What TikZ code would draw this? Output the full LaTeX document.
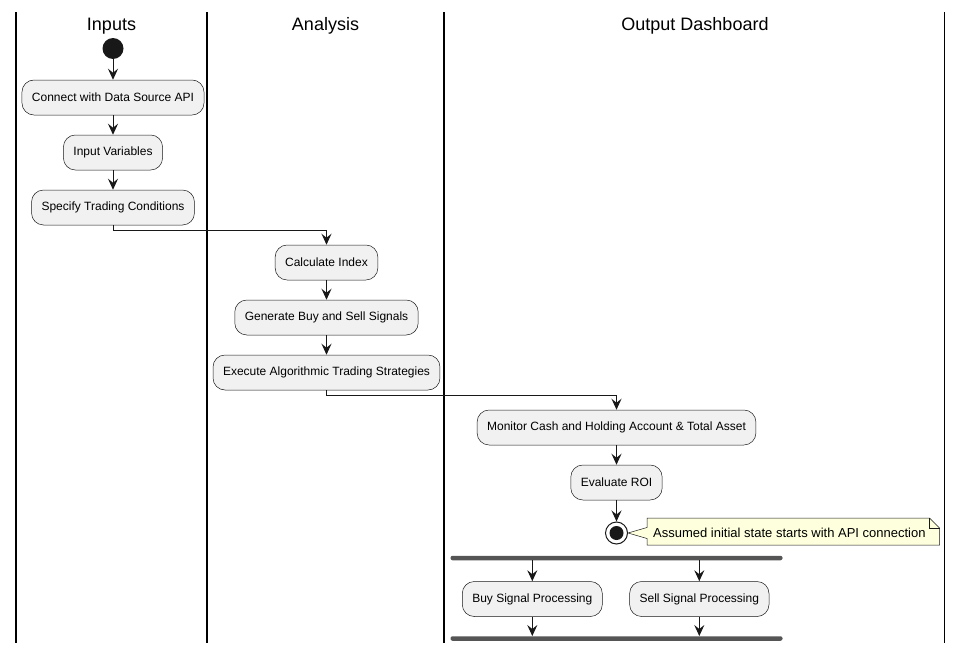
\documentclass[tikz,border=0pt]{standalone}
\usepackage{fontspec}
\setmainfont{Liberation Sans}
\usetikzlibrary{arrows.meta}
\definecolor{boxfill}{HTML}{F1F1F1}
\definecolor{lineclr}{HTML}{181818}
\definecolor{barclr}{HTML}{555555}
\definecolor{notefill}{HTML}{FEFFDD}
\tikzset{
  act/.style={draw=lineclr, line width=0.5pt, fill=boxfill, rounded corners=12pt,
    minimum height=35pt, inner xsep=10pt, font=\fontsize{12}{14}\selectfont},
  arr/.style={draw=lineclr, line width=1pt, -{Stealth[length=11pt,width=10pt,inset=4pt]}},
  lane/.style={draw=black, line width=1.6pt},
  lanetitle/.style={font=\fontsize{18}{22}\selectfont},
  bar/.style={fill=barclr, rounded corners=2pt, draw=none, minimum height=4.5pt, inner sep=0pt},
}
\begin{document}
\begin{tikzpicture}[x=1pt,y=-1pt]
\useasboundingbox (0,0) rectangle (964,653);
% swimlanes
\draw[lane] (16,12) -- (16,643);
\draw[lane] (207,12) -- (207,643);
\draw[lane] (444,12) -- (444,643);
\draw[lane] (944.5,12) -- (944.5,643);
\node[lanetitle] (t1) at (111.5,26) {Inputs};
\node[lanetitle] (t2) at (325.5,26) {Analysis};
\node[lanetitle] (t3) at (695,26) {Output Dashboard};
% start
\node[circle, fill=lineclr, minimum size=21pt, inner sep=0pt] (start) at (113,48.5) {};
\node[act] (n1) at (113,97.5) {Connect with Data Source API};
\node[act] (n2) at (113,152.5) {Input Variables};
\node[act] (n3) at (113,207.5) {Specify Trading Conditions};
\node[act] (n4) at (326.5,262.5) {Calculate Index};
\node[act] (n5) at (326.5,317.5) {Generate Buy and Sell Signals};
\node[act] (n6) at (326.5,372.5) {Execute Algorithmic Trading Strategies};
\node[act] (n7) at (616.5,427.5) {Monitor Cash and Holding Account \& Total Asset};
\node[act] (n8) at (616.5,482.5) {Evaluate ROI};
% end
\node[circle, draw=lineclr, line width=1pt, fill=white, minimum size=22pt, inner sep=0pt] (stop) at (616.5,533) {};
\node[circle, fill=lineclr, minimum size=14pt, inner sep=0pt] (stopin) at (stop.center) {};
% note
\draw[draw=lineclr, line width=0.5pt, fill=notefill]
  (647,518) -- (929.5,518) -- (939.5,528) -- (939.5,545) -- (647,545) -- (647,538.5)
  -- (stop.east) -- (647,527.5) -- cycle;
\draw[draw=lineclr, line width=0.5pt] (929.5,518) -- (929.5,528) -- (939.5,528);
\node[font=\fontsize{13}{15}\selectfont, anchor=west, inner sep=0pt] (note) at (653,532.5) {Assumed initial state starts with API connection};
% fork / join
\node[bar, minimum width=332pt] (fork) at (616.5,558) {};
\node[act] (buy) at (532.3,599) {Buy Signal Processing};
\node[act] (sell) at (699.3,599) {Sell Signal Processing};
\node[bar, minimum width=332pt] (join) at (616.5,638.5) {};
% connectors
\draw[arr] (start.south) -- (n1.north);
\draw[arr] (n1.south) -- (n2.north);
\draw[arr] (n2.south) -- (n3.north);
\draw[arr] (n3.south) -- ++(0,5) -| (n4.north);
\draw[arr] (n4.south) -- (n5.north);
\draw[arr] (n5.south) -- (n6.north);
\draw[arr] (n6.south) -- ++(0,5) -| (n7.north);
\draw[arr] (n7.south) -- (n8.north);
\draw[arr] (n8.south) -- (stop.north);
\draw[arr] (buy.north |- fork.south) -- (buy.north);
\draw[arr] (sell.north |- fork.south) -- (sell.north);
\draw[arr] (buy.south) -- (buy.south |- join.north);
\draw[arr] (sell.south) -- (sell.south |- join.north);
\end{tikzpicture}
\end{document}
